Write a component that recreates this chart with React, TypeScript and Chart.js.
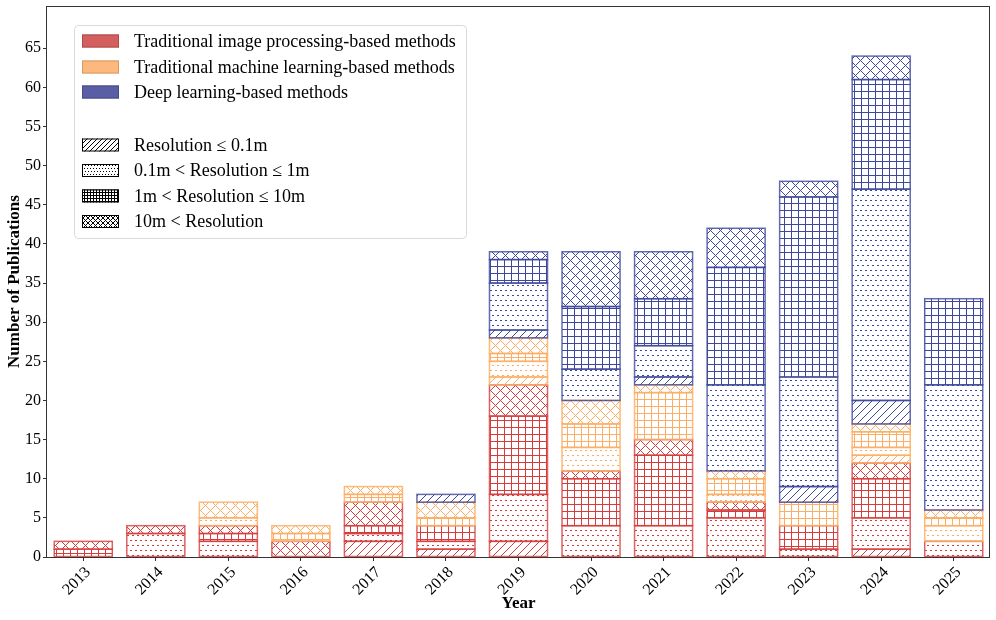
import React, { useEffect, useRef } from 'react';
import { Chart, registerables } from 'chart.js';

Chart.register(...registerables);

const years = ['2013', '2014', '2015', '2016', '2017', '2018', '2019', '2020', '2021', '2022', '2023', '2024', '2025'];
const yTickValues = [0, 5, 10, 15, 20, 25, 30, 35, 40, 45, 50, 55, 60, 65];

// Traditional image processing-based methods
const imgRes01 = [0, 0, 0, 0, 2, 1, 2, 0, 0, 0, 0, 1, 0];
const imgRes1 = [0, 3, 2, 0, 1, 1, 6, 4, 4, 5, 1, 4, 2];
const imgRes10 = [1, 0, 1, 0, 1, 2, 10, 6, 9, 1, 3, 5, 0];
const imgResOver = [1, 1, 1, 2, 3, 0, 4, 1, 2, 1, 0, 2, 0];
// Traditional machine learning-based methods
const mlRes01 = [0, 0, 0, 0, 0, 0, 1, 0, 0, 0, 0, 1, 0];
const mlRes1 = [0, 0, 1, 0, 0, 0, 2, 3, 0, 1, 0, 1, 2];
const mlRes10 = [0, 0, 0, 1, 1, 1, 1, 3, 6, 2, 3, 2, 1];
const mlResOver = [0, 0, 2, 1, 1, 2, 2, 3, 1, 1, 0, 1, 1];
// Deep learning-based methods
const dlRes01 = [0, 0, 0, 0, 0, 1, 1, 0, 1, 0, 2, 3, 0];
const dlRes1 = [0, 0, 0, 0, 0, 0, 6, 4, 4, 11, 14, 27, 16];
const dlRes10 = [0, 0, 0, 0, 0, 0, 3, 8, 6, 15, 23, 14, 11];
const dlResOver = [0, 0, 0, 0, 0, 0, 1, 7, 6, 5, 2, 3, 0];

const methodLabels = [
  'Traditional image processing-based methods',
  'Traditional machine learning-based methods',
  'Deep learning-based methods',
];
const resolutionLabels = [
  'Resolution \u2264 0.1m',
  '0.1m < Resolution \u2264 1m',
  '1m < Resolution \u2264 10m',
  '10m < Resolution',
];

const methodLineColors = ['#d63c3c', '#fdae64', '#3d479b'];
const methodBorderColors = ['rgba(214,60,60,0.8)', 'rgba(253,174,100,0.85)', 'rgba(61,71,155,0.8)'];
const methodPatchColors = ['#d35f5f', '#fdb97d', '#5a5ea4'];
const methodPatchEdges = ['#b04a4a', '#d89a62', '#464a88'];
const hatchKinds = ['diag', 'dots', 'grid', 'cross'];
const barSpacing = [8, 5, 7, 10];
const legendSpacing = [5, 3, 3, 5];

const FONT = "'Liberation Serif', 'Times New Roman', serif";

// Staircase (pixel-stepped) diagonal so the colour stays saturated.
function stepLine(ctx: CanvasRenderingContext2D, x0: number, y0: number, len: number, dir: number) {
  for (let k = 0; k < len; k++) {
    ctx.fillRect(Math.round(x0 + dir * k), Math.round(y0 + k), 1, 1);
  }
}

function drawHatch(
  ctx: CanvasRenderingContext2D,
  kind: string,
  color: string,
  l: number,
  t: number,
  r: number,
  b: number,
  s: number,
  dotW: number,
  dotH: number,
) {
  ctx.save();
  ctx.beginPath();
  ctx.rect(l, t, r - l, b - t);
  ctx.clip();
  ctx.fillStyle = color;
  const T = Math.floor(t);
  const B = Math.ceil(b);
  const len = B - T + 1;
  if (kind === 'diag' || kind === 'cross') {
    const c0 = Math.floor((l + T) / s) * s;
    const c1 = Math.ceil((r + B) / s) * s;
    for (let c = c0; c <= c1; c += s) {
      stepLine(ctx, c - T, T, len, -1);
    }
  }
  if (kind === 'cross') {
    const c0 = Math.floor((l - B) / s) * s;
    const c1 = Math.ceil((r - T) / s) * s;
    for (let c = c0; c <= c1; c += s) {
      stepLine(ctx, c + T, T, len, 1);
    }
  }
  if (kind === 'grid') {
    for (let x = Math.floor(l / s) * s; x <= r; x += s) {
      ctx.fillRect(x, T, 1, len);
    }
    for (let y = Math.floor(t / s) * s; y <= b; y += s) {
      ctx.fillRect(l, y, r - l, 1);
    }
  }
  if (kind === 'dots') {
    for (let y = Math.floor(t / s) * s; y <= b + s; y += s) {
      const rowIdx = Math.round(y / s);
      const off = rowIdx % 2 ? Math.floor(s / 2) : 0;
      for (let x = Math.floor(l / s) * s - s + off; x <= r + s; x += s) {
        ctx.fillRect(x, y, dotW, dotH);
      }
    }
  }
  ctx.restore();
}

export default function App() {
  const canvasRef = useRef<HTMLCanvasElement | null>(null);

  useEffect(() => {
    const canvas = canvasRef.current;
    if (!canvas) return;

    const seriesByMethod = [
      [imgRes01, imgRes1, imgRes10, imgResOver],
      [mlRes01, mlRes1, mlRes10, mlResOver],
      [dlRes01, dlRes1, dlRes10, dlResOver],
    ];

    const datasets: any[] = [];
    seriesByMethod.forEach((group, m) => {
      group.forEach((values, r) => {
        datasets.push({
          label: `${methodLabels[m]} / ${resolutionLabels[r]}`,
          data: values.map((v) => (v === 0 ? null : v)),
          backgroundColor: '#ffffff',
          borderWidth: 0,
          stack: 'all',
          barPercentage: 0.8,
          categoryPercentage: 1.0,
        });
      });
    });

    const hatchPlugin = {
      id: 'hatchBars',
      afterDatasetsDraw(chart: any) {
        const ctx: CanvasRenderingContext2D = chart.ctx;
        for (let di = 0; di < chart.data.datasets.length; di++) {
          const m = Math.floor(di / 4);
          const r = di % 4;
          const ds = chart.data.datasets[di];
          const meta = chart.getDatasetMeta(di);
          meta.data.forEach((el: any, i: number) => {
            const v = ds.data[i];
            if (v === null || v === undefined) return;
            const p = el.getProps(['x', 'y', 'base', 'width'], true);
            const l = p.x - p.width / 2;
            const rr = p.x + p.width / 2;
            const t = Math.min(p.y, p.base);
            const b = Math.max(p.y, p.base);
            drawHatch(ctx, hatchKinds[r], methodLineColors[m], l, t, rr, b, barSpacing[r], 2, 1);
            ctx.save();
            ctx.strokeStyle = methodBorderColors[m];
            ctx.lineWidth = 1.5;
            ctx.strokeRect(l, t, rr - l, b - t);
            ctx.restore();
          });
        }
      },
    };

    const framePlugin = {
      id: 'frameAndLegend',
      afterDraw(chart: any) {
        const ctx: CanvasRenderingContext2D = chart.ctx;
        const ca = chart.chartArea;
        ctx.save();
        ctx.strokeStyle = '#333';
        ctx.lineWidth = 1;
        ctx.strokeRect(Math.round(ca.left) - 0.5, Math.round(ca.top) + 0.5, Math.round(ca.right - ca.left), Math.round(ca.bottom - ca.top));

        ctx.beginPath();
        (ctx as any).roundRect(74.5, 25.5, 392, 213, 4);
        ctx.fillStyle = 'rgba(255,255,255,0.85)';
        ctx.fill();
        ctx.strokeStyle = '#d9d9d9';
        ctx.stroke();

        const rowsMethod = [41, 67, 92];
        const rowsRes = [145, 170.5, 196, 221.5];
        ctx.font = `18px ${FONT}`;
        ctx.textBaseline = 'middle';
        ctx.textAlign = 'left';
        methodLabels.forEach((lab, i) => {
          const y = rowsMethod[i];
          ctx.fillStyle = methodPatchColors[i];
          ctx.fillRect(82, y - 6.5, 37, 13);
          ctx.strokeStyle = methodPatchEdges[i];
          ctx.lineWidth = 1;
          ctx.strokeRect(82.5, y - 6, 36, 12);
          ctx.fillStyle = '#000';
          ctx.fillText(lab, 134, y + 1);
        });
        resolutionLabels.forEach((lab, i) => {
          const y = rowsRes[i];
          ctx.fillStyle = '#fff';
          ctx.fillRect(82, y - 6.5, 37, 13);
          drawHatch(ctx, hatchKinds[i], '#000', 82, y - 6.5, 119, y + 6.5, legendSpacing[i], 1, 1);
          ctx.strokeStyle = '#000';
          ctx.lineWidth = 1;
          ctx.strokeRect(82.5, y - 6, 36, 12);
          ctx.fillStyle = '#000';
          ctx.fillText(lab, 134, y + 1);
        });
        ctx.restore();
      },
    };

    const chart = new Chart(canvas, {
      type: 'bar',
      data: { labels: years, datasets },
      options: {
        animation: false,
        responsive: false,
        maintainAspectRatio: false,
        devicePixelRatio: 1,
        layout: { padding: { left: 0, right: 6, top: 6, bottom: 0 } },
        plugins: {
          legend: { display: false },
          tooltip: { enabled: false },
        },
        scales: {
          x: {
            type: 'category',
            stacked: true,
            offset: true,
            grid: {
              offset: false,
              drawOnChartArea: false,
              drawTicks: true,
              tickLength: 4,
              color: '#333',
              tickColor: '#333',
            },
            border: { display: false },
            ticks: {
              autoSkip: false,
              minRotation: 45,
              maxRotation: 45,
              padding: 2,
              labelOffset: 5,
              color: '#000',
              font: { family: FONT, size: 16 },
            },
            title: {
              display: true,
              text: 'Year',
              color: '#000',
              font: { family: FONT, size: 17, weight: 'bold' },
              padding: { top: 0, bottom: 6 },
            },
            afterFit: (s: any) => {
              s.height = 63;
              s.paddingLeft = 0;
              s.paddingRight = 0;
            },
          },
          y: {
            type: 'linear',
            stacked: true,
            min: 0,
            max: 70.4,
            grid: {
              drawOnChartArea: false,
              drawTicks: true,
              tickLength: 4,
              color: '#333',
              tickColor: '#333',
            },
            border: { display: false },
            ticks: {
              stepSize: 5,
              padding: 2,
              color: '#000',
              font: { family: FONT, size: 16 },
            },
            afterBuildTicks: (s: any) => {
              s.ticks = yTickValues.map((v) => ({ value: v }));
            },
            title: {
              display: true,
              text: 'Number of Publications',
              color: '#000',
              font: { family: FONT, size: 17, weight: 'bold' },
              padding: { top: 4, bottom: 0 },
            },
            afterFit: (s: any) => {
              s.width = 47;
              s.paddingTop = 0;
              s.paddingBottom = 0;
            },
          },
        },
      } as any,
      plugins: [hatchPlugin, framePlugin],
    });

    return () => {
      chart.destroy();
    };
  }, []);

  return (
    <div style={{ position: 'fixed', left: 0, top: 0, width: 996, height: 620, background: '#fff' }}>
      <canvas ref={canvasRef} width={996} height={620} style={{ width: 996, height: 620 }} />
    </div>
  );
}
